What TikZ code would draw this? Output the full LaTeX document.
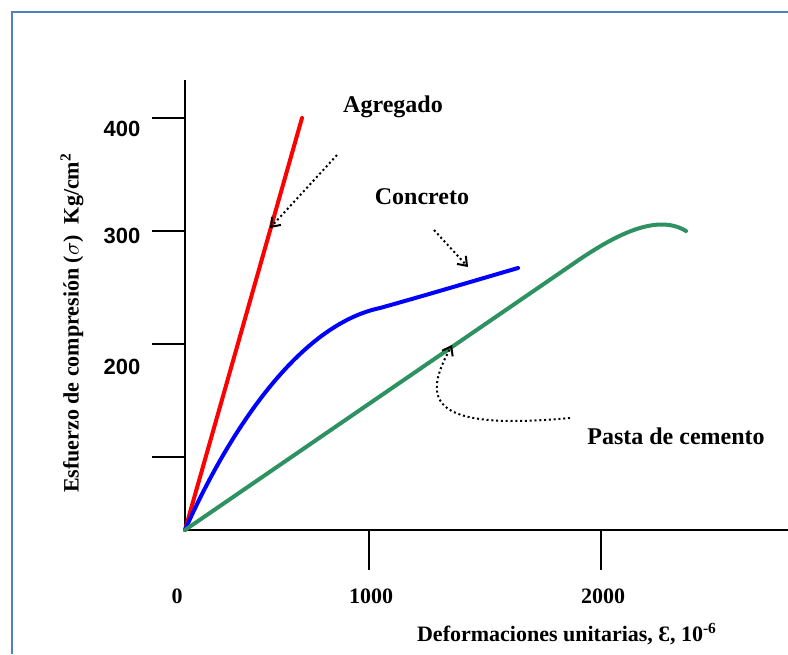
\documentclass[tikz,border=0pt]{standalone}
\usepackage{fontspec}
\setmainfont{Liberation Serif}
\newfontfamily\arialfont{Liberation Sans}
\usepackage{tikz}
\usetikzlibrary{arrows.meta}
\usetikzlibrary{positioning}
\definecolor{frameblue}{RGB}{79,129,189}
\definecolor{pastegreen}{RGB}{46,145,98}
\tikzstyle{axis_line} = [
    draw=black,
    line width=1pt
]
\tikzstyle{curve} = [
    line width=2pt,
    line cap=round,
    line join=round
]
\tikzstyle{pointer} = [
    draw=black,
    line width=1pt,
    dash pattern=on 1pt off 1.4pt,
    -{Straight Barb[length=4pt, width=6pt]}
]
\tikzstyle{name_label} = [
    font=\fontsize{12}{14}\selectfont\bfseries,
    inner sep=1pt
]
\tikzstyle{ytick_label} = [
    font=\arialfont\fontsize{11}{13}\selectfont\bfseries,
    inner sep=1pt
]
\tikzstyle{xtick_label} = [
    font=\fontsize{11}{13}\selectfont\bfseries,
    inner sep=1pt
]
\begin{document}
\begin{tikzpicture}[
    x=0.5pt, y=-0.5pt
]
\useasboundingbox (0,0) rectangle (788,654);
% frame
\draw [frameblue, line width=0.8pt] (12,654) -- (12,12) -- (788,12);
% axes
\coordinate (origin) at (185,530);
\coordinate (ytop) at (185,80);
\coordinate (xend) at (788,530);
\draw [axis_line] (ytop) -- (origin) -- (xend);
\foreach \y in {118, 231, 344, 457} {
    \draw [axis_line] (152,\y) -- (185,\y);
}
\foreach \x in {369, 601} {
    \draw [axis_line] (\x,530) -- (\x,570);
}
\node [ytick_label] (y400) at (122,129) {400};
\node [ytick_label] (y300) at (122,236) {300};
\node [ytick_label] (y200) at (122,367) {200};
\node [xtick_label] (x0) at (177,596) {0};
\node [xtick_label] (x1000) at (371,596) {1000};
\node [xtick_label] (x2000) at (603,596) {2000};
\node [xtick_label, rotate=90] (ylabel) at (72,323)
    {Esfuerzo de compresión ($\sigma$)\ \ Kg/cm\textsuperscript{2}};
\node [xtick_label] (xlabel) at (567,634)
    {Deformaciones unitarias, Ɛ, 10\textsuperscript{-6}};
% curves
\draw [curve, red] (origin) -- (302,118);
\draw [curve, blue] (origin)
    .. controls (225,440) and (295,326) .. (380,308)
    .. controls (430,294) and (470,282) .. (518,268);
\draw [curve, pastegreen] (origin) -- (570,266)
    .. controls (610,238) and (655,212) .. (686,231);
% labels
\node [name_label] (agregado) at (393,107) {Agregado};
\node [name_label] (concreto) at (422,197) {Concreto};
\node [name_label] (pasta) at (676,436) {Pasta de cemento};
\coordinate (agregado_from) at (337,155);
\coordinate (agregado_to) at (270,228);
\coordinate (concreto_from) at (434,230);
\coordinate (concreto_to) at (468,267);
\coordinate (pasta_from) at (570,418);
\coordinate (pasta_to) at (452,345);
\draw [pointer] (agregado_from) -- (agregado_to);
\draw [pointer] (concreto_from) -- (concreto_to);
\draw [pointer] (pasta_from) .. controls (420,432) and (425,395) .. (pasta_to);
\end{tikzpicture}
\end{document}
